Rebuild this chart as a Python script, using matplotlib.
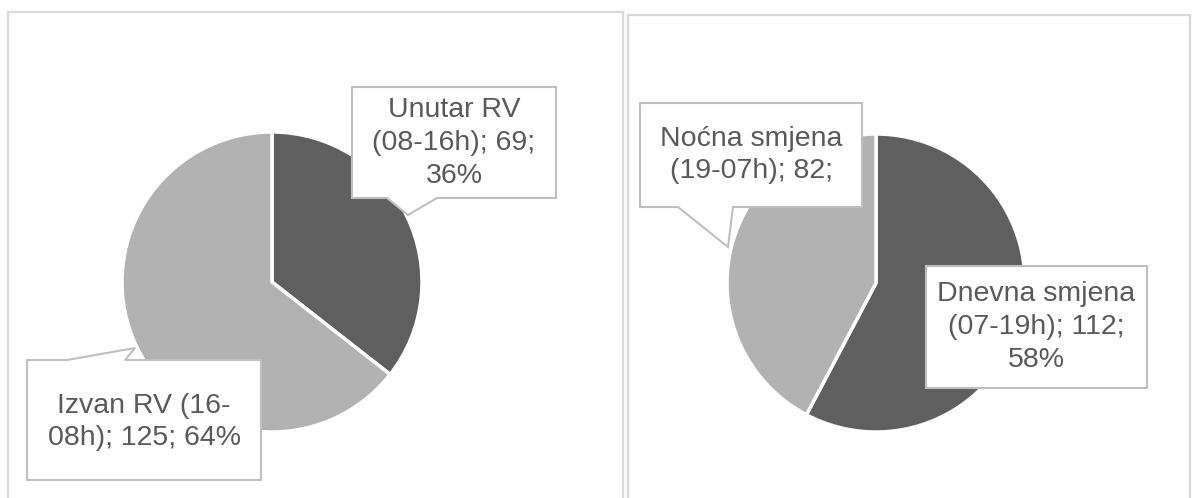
import matplotlib
matplotlib.use("Agg")
import matplotlib.pyplot as plt
from matplotlib.patches import Polygon, Rectangle

# ---- data ----
left_categories = ["Unutar RV\n(08-16h)", "Izvan RV (16-\n08h)"]
left_values = [69, 125]
right_categories = ["Dnevna smjena\n(07-19h)", "Noćna smjena\n(19-07h)"]
right_values = [112, 82]

left_label_text = ["Unutar RV\n(08-16h); 69;\n36%", "Izvan RV (16-\n08h); 125; 64%"]
right_label_text = ["Dnevna smjena\n(07-19h); 112;\n58%", "Noćna smjena\n(19-07h); 82;"]

DARK = "#5f5f5f"
LIGHT = "#b2b2b2"
TEXT = "#595959"
BOX_EDGE = "#bfbfbf"
PANEL_EDGE = "#d9d9d9"

W, H = 1196, 498
fig = plt.figure(figsize=(W / 100, H / 100), dpi=100)
ax = fig.add_axes([0, 0, 1, 1])
plt.rcParams["font.family"] = ["Liberation Sans", "DejaVu Sans"]


def Y(y):
    return H - y


# panel borders
ax.add_patch(Rectangle((8, Y(560)), 615, 548, fill=False, ec=PANEL_EDGE, lw=1.6, zorder=0))
ax.add_patch(Rectangle((628, Y(560)), 562, 545, fill=False, ec=PANEL_EDGE, lw=1.6, zorder=0))

# pies
ax.pie(left_values, colors=[DARK, LIGHT], startangle=90, counterclock=False,
       center=(272, Y(282)), radius=150, frame=True,
       wedgeprops=dict(edgecolor="white", linewidth=2.5))
ax.pie(right_values, colors=[DARK, LIGHT], startangle=90, counterclock=False,
       center=(876, Y(283)), radius=149, frame=True,
       wedgeprops=dict(edgecolor="white", linewidth=2.5))
ax.set_xlim(0, W)
ax.set_ylim(0, H)
ax.set_aspect("equal")
ax.axis("off")


def callout(pts, text, cx, cy):
    poly = Polygon([(x, Y(y)) for x, y in pts], closed=True, fc="white",
                   ec=BOX_EDGE, lw=1.5, zorder=5)
    ax.add_patch(poly)
    ax.text(cx, Y(cy), text, ha="center", va="center", fontsize=20.5, color=TEXT,
            linespacing=1.34, zorder=6)


callout([(352, 87), (556, 87), (556, 198), (437, 198), (408, 215), (387, 198), (352, 198)],
        left_label_text[0], 454, 143)
callout([(27, 360), (67, 360), (135, 348), (125, 360), (261, 360), (261, 480), (27, 480)],
        left_label_text[1], 144, 422)
callout([(640, 103), (862, 103), (862, 207), (733, 207), (728, 247), (678, 207), (640, 207)],
        right_label_text[1], 751, 155)
callout([(926, 266), (1147, 266), (1147, 388), (926, 388)],
        right_label_text[0], 1036, 327)

fig.savefig("out.png", dpi=100)
